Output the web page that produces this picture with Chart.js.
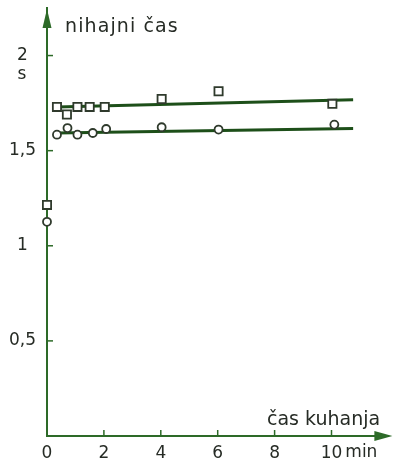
<!DOCTYPE html>
<html>
<head>
<meta charset="utf-8">
<script src="https://cdn.jsdelivr.net/npm/chart.js@4/dist/chart.umd.min.js"></script>
<style>
  html, body { margin: 0; padding: 0; background: #ffffff; }
  #wrap { width: 396px; height: 461px; position: relative; }
</style>
</head>
<body>
<div id="wrap"><canvas id="c" width="396" height="461"></canvas></div>
<script>
// ---- data ----
const squareTime   = [0, 0.35, 0.70, 1.07, 1.50, 2.03, 4.03, 6.03, 10.03];
const squarePeriod = [1.215, 1.73, 1.69, 1.73, 1.73, 1.73, 1.772, 1.812, 1.746];
const circleTime   = [0, 0.35, 0.72, 1.07, 1.61, 2.08, 4.03, 6.03, 10.10];
const circlePeriod = [1.126, 1.584, 1.619, 1.584, 1.593, 1.614, 1.623, 1.611, 1.637];
const fitTime      = [0.35, 10.76];
const upperFit     = [1.730, 1.768];
const lowerFit     = [1.593, 1.616];
const xTicks = [0, 2, 4, 6, 8, 10];
const yTicks = [0.5, 1, 1.5, 2];
const xTitle = 'čas kuhanja';
const yTitle = 'nihajni čas';
const xUnit = 'min';
const yUnit = 's';

// ---- styles ----
const AXIS = '#2d6a28';
const LINE = '#1d4f19';
const MARK = '#2f3a2c';
const TEXT = '#262b25';
const FONT = '"DejaVu Sans", sans-serif';

const pts = (xs, ys) => xs.map((x, i) => ({ x: x, y: ys[i] }));

const decor = {
  id: 'decor',
  afterDraw(chart) {
    const ctx = chart.ctx;
    const ca = chart.chartArea;
    const xs = chart.scales.x, ys = chart.scales.y;
    ctx.save();
    // inward tick marks
    ctx.strokeStyle = AXIS;
    ctx.lineWidth = 1.5;
    yTicks.forEach(v => {
      const py = ys.getPixelForValue(v);
      ctx.beginPath(); ctx.moveTo(ca.left, py); ctx.lineTo(ca.left + 6, py); ctx.stroke();
    });
    xTicks.forEach(v => {
      if (v === 0) return;
      const px = xs.getPixelForValue(v);
      ctx.beginPath(); ctx.moveTo(px, ca.bottom); ctx.lineTo(px, ca.bottom - 6); ctx.stroke();
    });
    // arrow heads
    ctx.fillStyle = AXIS;
    ctx.beginPath();
    ctx.moveTo(ca.left, ca.top + 1);
    ctx.lineTo(ca.left + 4.5, ca.top + 20);
    ctx.lineTo(ca.left - 4.5, ca.top + 20);
    ctx.closePath(); ctx.fill();
    ctx.beginPath();
    ctx.moveTo(ca.right + 4, ca.bottom);
    ctx.lineTo(ca.right - 14, ca.bottom - 5);
    ctx.lineTo(ca.right - 14, ca.bottom + 5);
    ctx.closePath(); ctx.fill();
    // titles
    ctx.fillStyle = TEXT;
    ctx.font = '19px ' + FONT;
    ctx.textBaseline = 'alphabetic';
    ctx.textAlign = 'left';
    try { ctx.letterSpacing = '1.1px'; } catch (e) {}
    ctx.fillText(yTitle, ca.left + 18, 32);
    try { ctx.letterSpacing = '0px'; } catch (e) {}
    ctx.fillText(xTitle, 267, 425);
    // units
    ctx.font = '17px ' + FONT;
    ctx.textBaseline = 'middle';
    ctx.textAlign = 'center';
    ctx.fillText(yUnit, 22, ys.getPixelForValue(2) + 19);
    ctx.textAlign = 'left';
    const tenW = ctx.measureText('10').width;
    ctx.fillText(xUnit, xs.getPixelForValue(10) + tenW / 2 + 3, 453);
    ctx.restore();
  }
};

new Chart(document.getElementById('c'), {
  type: 'scatter',
  data: {
    datasets: [
      {
        label: 'squares', data: pts(squareTime, squarePeriod), order: 0,
        pointStyle: 'rect', pointRadius: 5.8, pointBorderWidth: 1.8,
        pointBorderColor: MARK, pointBackgroundColor: '#ffffff', clip: false
      },
      {
        label: 'circles', data: pts(circleTime, circlePeriod), order: 0,
        pointStyle: 'circle', pointRadius: 4, pointBorderWidth: 1.8,
        pointBorderColor: MARK, pointBackgroundColor: '#ffffff', clip: false
      },
      {
        type: 'line', label: 'upper fit', data: pts(fitTime, upperFit), order: 1,
        borderColor: LINE, borderWidth: 3, pointRadius: 0, fill: false, tension: 0
      },
      {
        type: 'line', label: 'lower fit', data: pts(fitTime, lowerFit), order: 1,
        borderColor: LINE, borderWidth: 3, pointRadius: 0, fill: false, tension: 0
      }
    ]
  },
  options: {
    responsive: false,
    animation: false,
    events: [],
    layout: { padding: { top: 8, right: 5, left: 0, bottom: 0 } },
    plugins: { legend: { display: false }, tooltip: { enabled: false }, title: { display: false } },
    scales: {
      x: {
        type: 'linear', min: 0, max: 12,
        afterBuildTicks: s => { s.ticks = xTicks.map(v => ({ value: v })); },
        afterFit: s => { s.height = 25; s.paddingLeft = 0; s.paddingRight = 0; },
        grid: { display: true, drawOnChartArea: false, drawTicks: false },
        border: { display: true, color: AXIS, width: 2 },
        ticks: {
          padding: 7, color: TEXT, font: { family: FONT, size: 17 },
          maxRotation: 0, autoSkip: false,
          callback: v => String(v)
        }
      },
      y: {
        type: 'linear', min: 0, max: 2.25,
        afterBuildTicks: s => { s.ticks = yTicks.map(v => ({ value: v })); },
        afterFit: s => { s.width = 47; s.paddingTop = 0; s.paddingBottom = 0; },
        grid: { display: true, drawOnChartArea: false, drawTicks: false },
        border: { display: true, color: AXIS, width: 2 },
        ticks: {
          padding: 11, crossAlign: 'center', color: TEXT, font: { family: FONT, size: 17 },
          autoSkip: false,
          callback: v => String(v).replace('.', ',')
        }
      }
    }
  },
  plugins: [decor]
});
</script>
</body>
</html>
